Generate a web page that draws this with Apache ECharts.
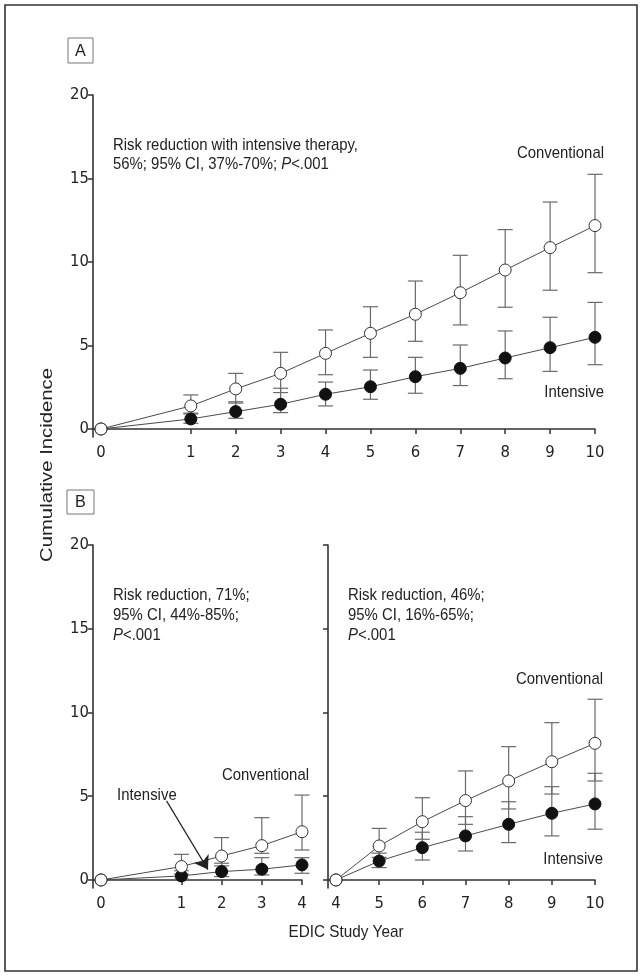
<!DOCTYPE html>
<html><head><meta charset="utf-8">
<script src="https://cdn.jsdelivr.net/npm/echarts@6/dist/echarts.min.js"></script>
<style>html,body{margin:0;padding:0;background:#fff}#c{width:642px;height:977px}</style>
</head><body><div id="c"></div>
<script>
// ---------- Panel A (years 0-10) ----------
const catsA = ['0','','1','2','3','4','5','6','7','8','9','10'];   // axis slots ('' = gap)
const yearsA = ['0','1','2','3','4','5','6','7','8','9','10'];
const convA    = [0, 1.38, 2.40, 3.33, 4.53, 5.73, 6.87, 8.16, 9.52, 10.86, 12.18];
const convA_lo = [0, 0.90, 1.55, 2.18, 3.25, 4.29, 5.25, 6.23, 7.29, 8.31, 9.36];
const convA_hi = [0, 2.04, 3.33, 4.59, 5.93, 7.32, 8.86, 10.40, 11.94, 13.59, 15.25];
const intA     = [0, 0.60, 1.04, 1.48, 2.08, 2.53, 3.13, 3.63, 4.25, 4.87, 5.49];
const intA_lo  = [0, 0.34, 0.64, 0.98, 1.38, 1.78, 2.14, 2.60, 3.01, 3.45, 3.85];
const intA_hi  = [0, 0.95, 1.63, 2.44, 2.81, 3.53, 4.29, 5.03, 5.87, 6.69, 7.58];

// ---------- Panel B left (years 0-4) ----------
const catsBL = ['0','','1','2','3','4'];
const yearsBL = ['0','1','2','3','4'];
const convBL    = [0, 0.80, 1.43, 2.05, 2.88];
const convBL_lo = [0, 0.35, 0.84, 1.59, 1.79];
const convBL_hi = [0, 1.53, 2.53, 3.72, 5.07];
const intBL     = [0, 0.24, 0.50, 0.64, 0.90];
const intBL_lo  = [0, 0.05, 0.20, 0.30, 0.40];
const intBL_hi  = [0, 0.55, 1.00, 1.33, 1.33];

// ---------- Panel B right (years 4-10) ----------
const catsBR = ['4','5','6','7','8','9','10'];
const yearsBR = ['4','5','6','7','8','9','10'];
const convBR    = [0, 2.03, 3.48, 4.74, 5.91, 7.06, 8.16];
const convBR_lo = [0, 1.35, 2.43, 3.32, 4.24, 5.13, 5.91];
const convBR_hi = [0, 3.08, 4.91, 6.51, 7.96, 9.39, 10.79];
const intBR     = [0, 1.13, 1.93, 2.63, 3.32, 3.98, 4.54];
const intBR_lo  = [0, 0.74, 1.19, 1.73, 2.23, 2.63, 3.03];
const intBR_hi  = [0, 1.60, 2.85, 3.78, 4.67, 5.57, 6.37];

const yTicks = [0, 5, 10, 15, 20];

const FONT = "'Liberation Sans', Arial, sans-serif";
const AXFONT = "'DejaVu Sans Condensed', 'Liberation Sans', sans-serif";
const AX = '#333';
const TXT = '#222';

function pts(cats, years, vals){ return years.map((y,i)=>[cats.indexOf(y), vals[i]]); }
function errs(cats, years, lo, hi){ return years.map((y,i)=>[cats.indexOf(y), lo[i], hi[i]]); }
function labelIdx(cats){ const r=[]; cats.forEach((c,i)=>{ if(c!=='') r.push(i); }); return r; }

// horizontal condensing factor so the text reaches the width seen in the reference
const mctx = document.createElement('canvas').getContext('2d');
function fit(text, size, target){
  mctx.font = size + 'px ' + FONT;
  return target / mctx.measureText(text).width;
}
const COND = fit('Risk reduction with intensive therapy,', 17, 245);

function errRender(params, api){
  const x = api.value(0), lo = api.value(1), hi = api.value(2);
  if (!(hi > lo)) return null;
  const a = api.coord([x, lo]), b = api.coord([x, hi]);
  const w = 7.5, st = {stroke:'#6a6a6a', lineWidth:1.2};
  return {type:'group', children:[
    {type:'line', shape:{x1:a[0],y1:a[1],x2:b[0],y2:b[1]}, style:st},
    {type:'line', shape:{x1:a[0]-w,y1:a[1],x2:a[0]+w,y2:a[1]}, style:st},
    {type:'line', shape:{x1:b[0]-w,y1:b[1],x2:b[0]+w,y2:b[1]}, style:st}
  ]};
}

function xAxisFor(gi, cats, minPad){
  const idx = labelIdx(cats);
  return {
    type:'value', gridIndex:gi, min:-minPad, max:cats.length-1,
    axisLine:{show:true, lineStyle:{color:AX, width:1.6}},
    splitLine:{show:false},
    axisTick:{show:true, length:5, customValues:idx, lineStyle:{color:AX, width:1.5}},
    axisLabel:{show:true, customValues:idx, formatter:v=>cats[Math.round(v)], fontFamily:AXFONT, fontSize:16.5, color:TXT, margin:7}
  };
}
function yAxisFor(gi, showLabels){
  return {
    type:'value', gridIndex:gi, min:-0.48, max:20,
    axisLine:{show:true, onZero:false, lineStyle:{color:AX, width:1.6}},
    splitLine:{show:false},
    axisTick:{show:true, length:5, customValues:yTicks, lineStyle:{color:AX, width:1.5}},
    axisLabel:{show:showLabels, customValues:yTicks, fontFamily:AXFONT, fontSize:16.5, color:TXT, margin:4}
  };
}

function panelSeries(gi, cats, years, conv, cLo, cHi, int_, iLo, iHi, extra){
  const lineStyle = {color:'#4a4a4a', width:1};
  const s = [
    {type:'custom', xAxisIndex:gi, yAxisIndex:gi, renderItem:errRender, data:errs(cats, years, cLo, cHi), z:2},
    {type:'custom', xAxisIndex:gi, yAxisIndex:gi, renderItem:errRender, data:errs(cats, years, iLo, iHi), z:2},
    {type:'line', name:'Intensive', xAxisIndex:gi, yAxisIndex:gi, data:pts(cats, years, int_), symbol:'circle', symbolSize:12,
      lineStyle:lineStyle, itemStyle:{color:'#111', borderColor:'#111', borderWidth:1}, z:3},
    {type:'line', name:'Conventional', xAxisIndex:gi, yAxisIndex:gi, data:pts(cats, years, conv), symbol:'circle', symbolSize:12,
      lineStyle:lineStyle, itemStyle:{color:'#fff', borderColor:'#333', borderWidth:1}, z:4}
  ];
  if (extra) Object.assign(s[2], extra);
  return s;
}

const rich = {i:{fontStyle:'italic', fontFamily:FONT, fontSize:17, fill:TXT}};
function txt(x, y, text, align, vAlign, lh, sx){
  return {type:'text', x:x, y:y, scaleX:(sx||COND), silent:true, style:{text:text, fontFamily:FONT, fontSize:17, fill:TXT,
    align:align||'left', verticalAlign:vAlign||'middle', lineHeight:lh||20, rich:rich}};
}

const chart = echarts.init(document.getElementById('c'), null, {renderer:'canvas'});
chart.setOption({
  animation:false,
  backgroundColor:'#fff',
  grid:[
    {left:93, top:95, width:502, height:342},
    {left:93, top:545, width:209, height:343},
    {left:328, top:545, width:267, height:343}
  ],
  xAxis:[ xAxisFor(0, catsA, 0.178), xAxisFor(1, catsBL, 0.2), xAxisFor(2, catsBR, 0.185) ],
  yAxis:[ yAxisFor(0, true), yAxisFor(1, true), yAxisFor(2, false) ],
  series:[].concat(
    panelSeries(0, catsA, yearsA, convA, convA_lo, convA_hi, intA, intA_lo, intA_hi),
    panelSeries(1, catsBL, yearsBL, convBL, convBL_lo, convBL_hi, intBL, intBL_lo, intBL_hi, {
      markLine:{silent:true, symbol:['none','arrow'], symbolSize:13, label:{show:false},
        lineStyle:{color:'#222', width:1.2, type:'solid'}, emphasis:{disabled:true},
        data:[[{coord:[1.63, 4.72]}, {coord:[2.66, 0.62]}]]}
    }),
    panelSeries(2, catsBR, yearsBR, convBR, convBR_lo, convBR_hi, intBR, intBR_lo, intBR_hi)
  ),
  graphic:[
    {type:'rect', shape:{x:5, y:5, width:632, height:966}, style:{fill:'none', stroke:'#333', lineWidth:1.6}, silent:true},
    {type:'rect', shape:{x:68, y:38, width:25, height:25}, style:{fill:'none', stroke:'#777', lineWidth:1}, silent:true},
    txt(80.5, 51, 'A', 'center', 'middle', 20, 0.95),
    {type:'rect', shape:{x:67, y:490, width:27, height:24}, style:{fill:'none', stroke:'#777', lineWidth:1}, silent:true},
    txt(80.5, 502.5, 'B', 'center', 'middle', 20, 0.95),
    txt(113, 136, 'Risk reduction with intensive therapy,\n56%; 95% CI, 37%-70%; {i|P}<.001', 'left', 'top', 19),
    txt(604, 153, 'Conventional', 'right'),
    txt(604, 392, 'Intensive', 'right'),
    txt(113, 585, 'Risk reduction, 71%;\n95% CI, 44%-85%;\n{i|P}<.001', 'left', 'top', 20),
    txt(309, 775, 'Conventional', 'right'),
    txt(117, 795, 'Intensive', 'left'),
    txt(348, 585, 'Risk reduction, 46%;\n95% CI, 16%-65%;\n{i|P}<.001', 'left', 'top', 20),
    txt(603, 679, 'Conventional', 'right'),
    txt(603, 859, 'Intensive', 'right'),
    txt(346, 932, 'EDIC Study Year', 'center', 'middle', 20, fit('EDIC Study Year', 17, 115)),
    {type:'text', x:47, y:465, rotation:Math.PI/2, scaleX:fit('Cumulative Incidence', 17, 194), silent:true,
      style:{text:'Cumulative Incidence', fontFamily:FONT, fontSize:17, fill:TXT, align:'center', verticalAlign:'middle'}}
  ]
});
</script></body></html>
